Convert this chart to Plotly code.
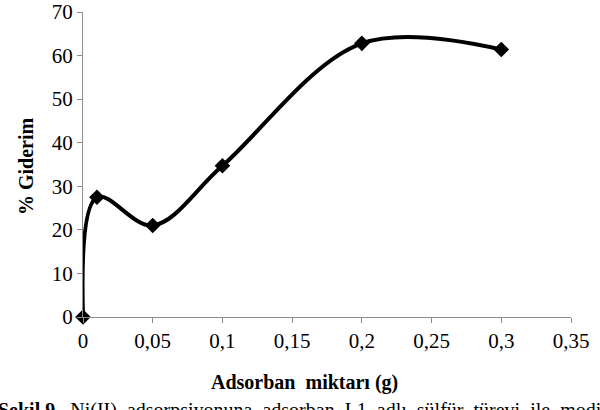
import plotly.graph_objects as go

adsorban_g = [0, 0.01, 0.05, 0.1, 0.2, 0.3]
giderim_pct = [0, 27.5, 21.0, 34.7, 62.8, 61.4]
x_ticks = [0, 0.05, 0.1, 0.15, 0.2, 0.25, 0.3, 0.35]
x_tick_labels = ["0", "0,05", "0,1", "0,15", "0,2", "0,25", "0,3", "0,35"]
y_ticks = [0, 10, 20, 30, 40, 50, 60, 70]
caption = "<b>Şekil 9.</b>  Ni(II)  adsorpsiyonuna  adsorban  L1  adlı  sülfür  türevi  ile  modifiye  edilmiş"

W, H = 600, 410
ml, mr, mt, mb = 83, 29, 12, 93
pw = W - ml - mr
ph = H - mt - mb

font_family = "Liberation Serif"

fig = go.Figure()
fig.add_trace(go.Scatter(
    x=adsorban_g, y=giderim_pct,
    mode="lines+markers",
    line=dict(color="black", width=4, shape="spline", smoothing=1.0),
    marker=dict(symbol="diamond", size=12, color="black"),
    cliponaxis=False,
    showlegend=False,
    hoverinfo="skip",
))

axis_common = dict(
    showgrid=False, zeroline=False, automargin=False,
    showline=True, linecolor="#8c8c8c", linewidth=1,
    ticks="outside", ticklen=5, tickcolor="#8c8c8c", tickwidth=1,
    tickfont=dict(family=font_family, size=21, color="black"),
)

fig.update_layout(
    width=W, height=H,
    margin=dict(l=ml, r=mr, t=mt, b=mb),
    paper_bgcolor="white", plot_bgcolor="white",
    font=dict(family=font_family, color="black"),
    xaxis=dict(range=[0, 0.35], tickvals=x_ticks, ticktext=x_tick_labels, **axis_common),
    yaxis=dict(range=[0, 70], tickvals=y_ticks, **axis_common),
)

fig.add_annotation(
    text="<b>% Giderim</b>", textangle=-90,
    xref="paper", yref="paper",
    x=(26 - ml) / pw, y=(H - mb - 166) / ph,
    xanchor="center", yanchor="middle", showarrow=False,
    font=dict(family=font_family, size=20, color="black"),
)
fig.add_annotation(
    text="<b>Adsorban  miktarı (g)</b>",
    xref="paper", yref="paper",
    x=(304 - ml) / pw, y=-(382 - (H - mb)) / ph,
    xanchor="center", yanchor="middle", showarrow=False,
    font=dict(family=font_family, size=20, color="black"),
)
fig.add_annotation(
    text=caption,
    xref="paper", yref="paper",
    x=(-4 - ml) / pw, y=-(397 - (H - mb)) / ph,
    xanchor="left", yanchor="top", showarrow=False,
    font=dict(family=font_family, size=20, color="black"),
)

fig.write_html("out.html", config={"displayModeBar": False},
               post_script="document.body.style.margin='0';")
